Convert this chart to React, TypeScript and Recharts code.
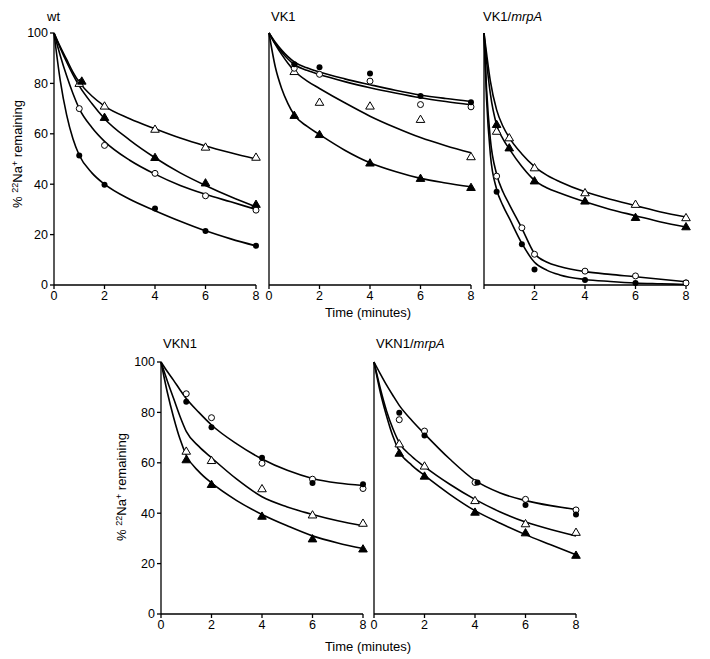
import { ComposedChart, Line, Scatter, XAxis, YAxis } from "recharts";

const X_TICKS = [0, 2, 4, 6, 8];
const Y_TICKS = [0, 20, 40, 60, 80, 100];
const POINT_T = [1, 2, 4, 6, 8];
const CURVE_T = [0, 0.25, 0.5, 0.75, 1, 1.5, 2, 3, 4, 5, 6, 7, 8];
const MRPA_CURVE_T = [0, 0.1, 0.25, 0.5, 0.75, 1, 1.5, 2, 2.5, 3, 4, 5, 6, 7, 8];

// wt
const wtFilledCircle = [51.4, 39.8, 30.4, 21.4, 15.6];
const wtOpenCircle = [70, 55.4, 44.3, 35.4, 29.7];
const wtFilledTriangleT = [1.1, 2, 4, 6, 8];
const wtFilledTriangle = [80.9, 66.5, 50.6, 40.5, 32];
const wtOpenTriangle = [80, 71, 61.8, 54.7, 50.7];
const wtCurveFC = [100, 81, 67.5, 58, 51.5, 44.5, 40, 34, 29.5, 25.3, 21.5, 18.3, 15.5];
const wtCurveOC = [100, 91, 83, 76, 70, 62.5, 57, 49.5, 44, 39.5, 36, 33, 30];
const wtCurveFT = [100, 94, 88.5, 83.5, 79, 72, 66, 57.5, 50.5, 44.5, 39.5, 35, 31];
const wtCurveOT = [100, 94.5, 89.5, 84.5, 80.5, 75, 71, 66, 62, 58.3, 55.2, 52.5, 50];

// VK1
const vk1FilledCircle = [87.6, 86.4, 83.9, 75, 72.5];
const vk1OpenCircle = [86, 83.6, 80.9, 71.6, 70.7];
const vk1FilledTriangle = [67.3, 59.7, 48.4, 42.3, 38.7];
const vk1OpenTriangle = [84.7, 72.5, 71, 65.7, 50.9];
const vk1CurveFC = [100, 96.3, 93.2, 90.6, 88.5, 86.2, 84.5, 81.8, 79.5, 77.3, 75.4, 74, 72.8];
const vk1CurveOC = [100, 95.8, 92.5, 89.7, 87.5, 85.2, 83.5, 80.7, 78.3, 76.2, 74.3, 72.8, 71.5];
const vk1CurveFT = [100, 86.5, 78, 72, 67.5, 63, 59.7, 53.5, 48.5, 45, 42.3, 40.5, 39];
const vk1CurveOT = [100, 95.5, 91.5, 88, 85, 81, 78, 72.3, 67, 62.5, 58.5, 55.3, 52.5];

// VK1/mrpA
const mrpaTriangleT = [0.5, 1, 2, 4, 6, 8];
const mrpaCircleT = [0.5, 1.5, 2, 4, 6, 8];
const mrpaFilledCircle = [37, 16.2, 6.2, 2, 0.8, 1];
const mrpaOpenCircle = [43.2, 22.7, 12.2, 5.5, 3.6, 0.8];
const mrpaFilledTriangle = [63.7, 54.4, 41.3, 33.3, 26.8, 23.1];
const mrpaOpenTriangle = [61, 58.4, 46.5, 36.6, 32, 26.7];
const mrpaCurveFC = [100, 74, 52, 38, 31.5, 26.5, 16.5, 9, 5.8, 4, 2.2, 1.4, 0.8, 0.5, 0.2];
const mrpaCurveOC = [100, 78, 58, 44, 37, 32, 22.5, 12.5, 9, 7.3, 5.3, 4.2, 3.3, 2.3, 1.3];
const mrpaCurveFT = [100, 89, 76, 63.5, 58, 54, 47, 41.5, 38.5, 36.5, 33, 30, 27.5, 25, 23];
const mrpaCurveOT = [100, 92, 81, 69.5, 63, 58.5, 52, 47, 43.5, 41, 37, 34, 31.5, 29, 27];

// VKN1
const vkn1FilledCircle = [84.2, 74.1, 62, 52, 51.5];
const vkn1OpenCircle = [87.4, 77.9, 59.8, 53.5, 49.8];
const vkn1FilledTriangle = [61.2, 51.4, 38.8, 29.8, 25.8];
const vkn1OpenTriangle = [64.6, 60.9, 49.7, 39.3, 36];
const vkn1CurveC = [100, 96.2, 92.7, 89, 85.5, 80, 75, 67.5, 61.5, 57, 53.8, 52, 51];
const vkn1CurveFT = [100, 88, 78, 69.5, 63, 56.5, 52, 45, 39.5, 35, 31, 28.2, 26];
const vkn1CurveOT = [100, 92.5, 85.5, 78.5, 72.5, 66.5, 62, 53.5, 46.5, 42.5, 39.5, 37, 35];

// VKN1/mrpA
const vknMrpaFilledCircleT = [1, 2, 4.1, 6, 8];
const vknMrpaFilledCircle = [79.9, 70.8, 52.2, 43.3, 39.5];
const vknMrpaOpenCircle = [77.1, 72.6, 52.2, 45.5, 41.3];
const vknMrpaFilledTriangle = [63.8, 54.7, 40.4, 32.2, 23.3];
const vknMrpaOpenTriangle = [67.5, 58.7, 45, 35.8, 32.4];
const vknMrpaCurveC = [100, 95.3, 90.8, 86.7, 82.8, 76.8, 71.5, 61.5, 53, 48, 45, 43, 41.5];
const vknMrpaCurveFT = [100, 88, 78.5, 70.5, 64.5, 59, 55, 47.5, 41, 36, 31.5, 27.5, 23.5];
const vknMrpaCurveOT = [100, 89.5, 80.5, 73.5, 68, 62.5, 58.5, 51.5, 45.5, 40.5, 36.5, 33.5, 31];

type Kind = "fc" | "oc" | "ft" | "ot";

const pairs = (xs: number[], ys: number[]) => xs.map((x, i) => ({ x, y: ys[i] }));

function Marker({ cx, cy, kind }: { cx?: number; cy?: number; kind: Kind }) {
  if (cx == null || cy == null) return null;
  if (kind === "fc") return <circle cx={cx} cy={cy} r={3} fill="#000" />;
  if (kind === "oc")
    return <circle cx={cx} cy={cy} r={3} fill="#fff" stroke="#000" strokeWidth={1} />;
  const pts = `${cx},${cy - 4.3} ${cx - 4.3},${cy + 3} ${cx + 4.3},${cy + 3}`;
  return (
    <polygon
      points={pts}
      fill={kind === "ft" ? "#000" : "#fff"}
      stroke="#000"
      strokeWidth={1}
    />
  );
}

type PanelProps = {
  left: number;
  top: number;
  curves: { x: number; y: number }[][];
  points: { kind: Kind; data: { x: number; y: number }[] }[];
  yTicks?: boolean;
  hideZero?: boolean;
};

const axisStyle = { stroke: "#000", strokeWidth: 1.3 };
const tickStyle = { fill: "#000", fontSize: 12.5, fontFamily: "Liberation Sans, Arial, sans-serif" };

function Panel({ left, top, curves, points, yTicks, hideZero }: PanelProps) {
  return (
    <div style={{ position: "absolute", left: left - 40, top: top - 10 }}>
      <ComposedChart
        width={254}
        height={292}
        margin={{ top: 10, right: 12, bottom: 0, left: 0 }}
      >
        <XAxis
          type="number"
          dataKey="x"
          domain={[0, 8]}
          ticks={X_TICKS}
          height={30}
          tickSize={4}
          axisLine={axisStyle}
          tickLine={axisStyle}
          tick={tickStyle}
          tickFormatter={(v: number) => (hideZero && v === 0 ? "" : String(v))}
        />
        <YAxis
          type="number"
          domain={[0, 100]}
          ticks={Y_TICKS}
          width={40}
          tickSize={4}
          axisLine={axisStyle}
          tickLine={yTicks ? axisStyle : false}
          tick={yTicks ? tickStyle : false}
        />
        {curves.map((c, i) => (
          <Line
            key={"c" + i}
            data={c}
            dataKey="y"
            type="monotone"
            stroke="#000"
            strokeWidth={1.6}
            dot={false}
            activeDot={false}
            isAnimationActive={false}
          />
        ))}
        {points.map((p, i) => (
          <Scatter
            key={"p" + i}
            data={p.data}
            dataKey="y"
            isAnimationActive={false}
            shape={(props: any) => <Marker cx={props.cx} cy={props.cy} kind={p.kind} />}
          />
        ))}
      </ComposedChart>
    </div>
  );
}

function Title({ x, y, children }: { x: number; y: number; children: any }) {
  return (
    <div style={{ position: "absolute", left: x, top: y, fontSize: 13, lineHeight: 1, whiteSpace: "nowrap" }}>
      {children}
    </div>
  );
}

function YLabel({ x, y }: { x: number; y: number }) {
  return (
    <div
      style={{
        position: "absolute",
        left: x,
        top: y,
        transform: "translate(-50%, -50%) rotate(-90deg)",
        fontSize: 13,
        lineHeight: 1,
        whiteSpace: "nowrap",
      }}
    >
      %{" "}
      <span style={{ fontSize: 9, verticalAlign: "4px" }}>22</span>
      Na
      <span style={{ fontSize: 9, verticalAlign: "4px" }}>+</span> remaining
    </div>
  );
}

function XLabel({ x, y }: { x: number; y: number }) {
  return (
    <div
      style={{
        position: "absolute",
        left: x,
        top: y,
        transform: "translate(-50%, -50%)",
        fontSize: 13,
        lineHeight: 1,
        whiteSpace: "nowrap",
      }}
    >
      Time (minutes)
    </div>
  );
}

export default function App() {
  return (
    <div
      style={{
        position: "absolute",
        left: 0,
        top: 0,
        width: 710,
        height: 659,
        background: "#fff",
        fontFamily: "Liberation Sans, Arial, sans-serif",
        color: "#000",
      }}
    >
      <Panel
        left={54}
        top={33}
        yTicks
        curves={[
          pairs(CURVE_T, wtCurveOT),
          pairs(CURVE_T, wtCurveFT),
          pairs(CURVE_T, wtCurveOC),
          pairs(CURVE_T, wtCurveFC),
        ]}
        points={[
          { kind: "ot", data: pairs(POINT_T, wtOpenTriangle) },
          { kind: "ft", data: pairs(wtFilledTriangleT, wtFilledTriangle) },
          { kind: "oc", data: pairs(POINT_T, wtOpenCircle) },
          { kind: "fc", data: pairs(POINT_T, wtFilledCircle) },
        ]}
      />
      <Panel
        left={269}
        top={33}
        curves={[
          pairs(CURVE_T, vk1CurveFC),
          pairs(CURVE_T, vk1CurveOC),
          pairs(CURVE_T, vk1CurveOT),
          pairs(CURVE_T, vk1CurveFT),
        ]}
        points={[
          { kind: "ot", data: pairs(POINT_T, vk1OpenTriangle) },
          { kind: "oc", data: pairs(POINT_T, vk1OpenCircle) },
          { kind: "fc", data: pairs(POINT_T, vk1FilledCircle) },
          { kind: "ft", data: pairs(POINT_T, vk1FilledTriangle) },
        ]}
      />
      <Panel
        left={484}
        top={33}
        hideZero
        curves={[
          pairs(MRPA_CURVE_T, mrpaCurveOT),
          pairs(MRPA_CURVE_T, mrpaCurveFT),
          pairs(MRPA_CURVE_T, mrpaCurveOC),
          pairs(MRPA_CURVE_T, mrpaCurveFC),
        ]}
        points={[
          { kind: "ot", data: pairs(mrpaTriangleT, mrpaOpenTriangle) },
          { kind: "ft", data: pairs(mrpaTriangleT, mrpaFilledTriangle) },
          { kind: "fc", data: pairs(mrpaCircleT, mrpaFilledCircle) },
          { kind: "oc", data: pairs(mrpaCircleT, mrpaOpenCircle) },
        ]}
      />
      <Panel
        left={161}
        top={362}
        yTicks
        curves={[
          pairs(CURVE_T, vkn1CurveC),
          pairs(CURVE_T, vkn1CurveOT),
          pairs(CURVE_T, vkn1CurveFT),
        ]}
        points={[
          { kind: "oc", data: pairs(POINT_T, vkn1OpenCircle) },
          { kind: "fc", data: pairs(POINT_T, vkn1FilledCircle) },
          { kind: "ot", data: pairs(POINT_T, vkn1OpenTriangle) },
          { kind: "ft", data: pairs(POINT_T, vkn1FilledTriangle) },
        ]}
      />
      <Panel
        left={374}
        top={362}
        curves={[
          pairs(CURVE_T, vknMrpaCurveC),
          pairs(CURVE_T, vknMrpaCurveOT),
          pairs(CURVE_T, vknMrpaCurveFT),
        ]}
        points={[
          { kind: "oc", data: pairs(POINT_T, vknMrpaOpenCircle) },
          { kind: "fc", data: pairs(vknMrpaFilledCircleT, vknMrpaFilledCircle) },
          { kind: "ot", data: pairs(POINT_T, vknMrpaOpenTriangle) },
          { kind: "ft", data: pairs(POINT_T, vknMrpaFilledTriangle) },
        ]}
      />

      <Title x={47} y={10}>wt</Title>
      <Title x={271} y={10}>VK1</Title>
      <Title x={483} y={10}>
        VK1/<i>mrpA</i>
      </Title>
      <Title x={163} y={337}>VKN1</Title>
      <Title x={376} y={337}>
        VKN1/<i>mrpA</i>
      </Title>

      <YLabel x={17} y={154} />
      <YLabel x={121} y={487} />
      <XLabel x={368} y={312} />
      <XLabel x={368} y={646} />
    </div>
  );
}
